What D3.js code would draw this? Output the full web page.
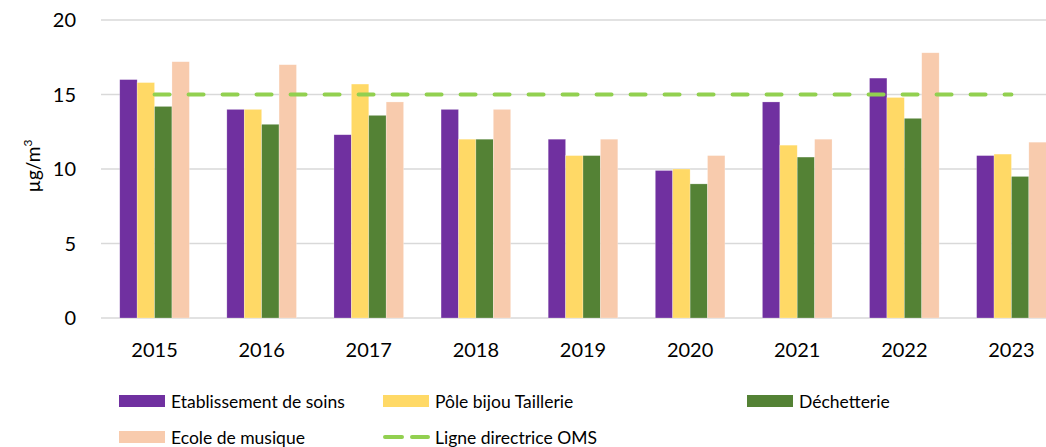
<!DOCTYPE html>
<meta charset="utf-8">
<head>
  <title>Concentrations par site</title>
</head>

<style>
body { margin: 0; background: #fff; }
text { font-family: Lato, "Open Sans", sans-serif; fill: #000; }
.grid line { stroke: #d9d9d9; stroke-width: 1.3; }
</style>

<body>
  <svg width="1046" height="447"></svg>

  <script src="https://cdnjs.cloudflare.com/ajax/libs/d3/7.8.5/d3.min.js"></script>
  <script>

const years = ["2015", "2016", "2017", "2018", "2019", "2020", "2021", "2022", "2023"];
const seriesNames = ["Etablissement de soins", "Pôle bijou Taillerie", "Déchetterie", "Ecole de musique"];
const soins     = [16.0, 14.0, 12.3, 14.0, 12.0, 9.9, 14.5, 16.1, 10.9];
const taillerie = [15.8, 14.0, 15.7, 12.0, 10.9, 10.0, 11.6, 14.8, 11.0];
const dechet    = [14.2, 13.0, 13.6, 12.0, 10.9, 9.0, 10.8, 13.4, 9.5];
const musique   = [17.2, 17.0, 14.5, 14.0, 12.0, 10.9, 12.0, 17.8, 11.8];
const oms = 15;
const yTicks = [0, 5, 10, 15, 20];

const colors = ["#7030a0", "#ffd966", "#548235", "#f8cbad"];
const omsColor = "#92d050";
const values = [soins, taillerie, dechet, musique];

const svg = d3.select("svg");

const x = d3.scaleBand().domain(years).range([101, 1065]).paddingInner(0.35).paddingOuter(0.175);
const xs = d3.scaleBand().domain(d3.range(4)).range([0, x.bandwidth()]);
const y = d3.scaleLinear().domain([0, 20]).range([318, 20]);

// gridlines
svg.append("g").attr("class", "grid")
  .selectAll("line").data(yTicks).enter().append("line")
  .attr("x1", 101).attr("x2", 1065)
  .attr("y1", d => y(d)).attr("y2", d => y(d));

// y labels
svg.append("g").selectAll("text").data(yTicks).enter().append("text")
  .attr("x", 76).attr("y", d => y(d) + 7)
  .attr("text-anchor", "end").attr("font-size", 20)
  .text(d => d);

svg.append("text")
  .attr("transform", "translate(40,166) rotate(-90)")
  .attr("text-anchor", "middle").attr("font-size", 19)
  .html('µg/m<tspan font-size="12" dy="-8">3</tspan>');

// bars
const groups = svg.append("g").selectAll("g").data(years).enter().append("g")
  .attr("transform", d => `translate(${x(d)},0)`);

groups.selectAll("rect")
  .data((d, i) => values.map((s, k) => ({ k: k, v: s[i] })))
  .enter().append("rect")
  .attr("x", d => xs(d.k))
  .attr("width", xs.bandwidth())
  .attr("y", d => y(d.v))
  .attr("height", d => y(0) - y(d.v))
  .attr("fill", d => colors[d.k])
  .attr("stroke", "#fff").attr("stroke-opacity", 0.4).attr("stroke-width", 0.6);

// OMS line
const line = d3.line().x(d => x(d) + x.bandwidth() / 2).y(() => y(oms));
svg.append("path").datum(years)
  .attr("d", line)
  .attr("fill", "none").attr("stroke", omsColor).attr("stroke-width", 4)
  .attr("stroke-linecap", "round").attr("stroke-dasharray", "15,19");

// x labels
svg.append("g").selectAll("text").data(years).enter().append("text")
  .attr("x", d => x(d) + x.bandwidth() / 2).attr("y", 357)
  .attr("text-anchor", "middle").attr("font-size", 20)
  .text(d => d);

// legend
const legendItems = [
  { name: seriesNames[0], c: colors[0], lx: 119, ly: 401 },
  { name: seriesNames[1], c: colors[1], lx: 383, ly: 401 },
  { name: seriesNames[2], c: colors[2], lx: 747, ly: 401 },
  { name: seriesNames[3], c: colors[3], lx: 119, ly: 437 }
];
const lg = svg.append("g");
legendItems.forEach(d => {
  lg.append("rect").attr("x", d.lx).attr("y", d.ly - 6).attr("width", 46).attr("height", 12).attr("fill", d.c);
  lg.append("text").attr("x", d.lx + 52).attr("y", d.ly + 7).attr("font-size", 17.5).text(d.name);
});
lg.append("line").attr("x1", 383).attr("x2", 428).attr("y1", 437).attr("y2", 437)
  .attr("stroke", omsColor).attr("stroke-width", 4).attr("stroke-linecap", "round")
  .attr("stroke-dasharray", "17,10").attr("stroke-dashoffset", -2);
lg.append("text").attr("x", 435).attr("y", 444).attr("font-size", 17.5).text("Ligne directrice OMS");

  </script>
</body>
</html>
